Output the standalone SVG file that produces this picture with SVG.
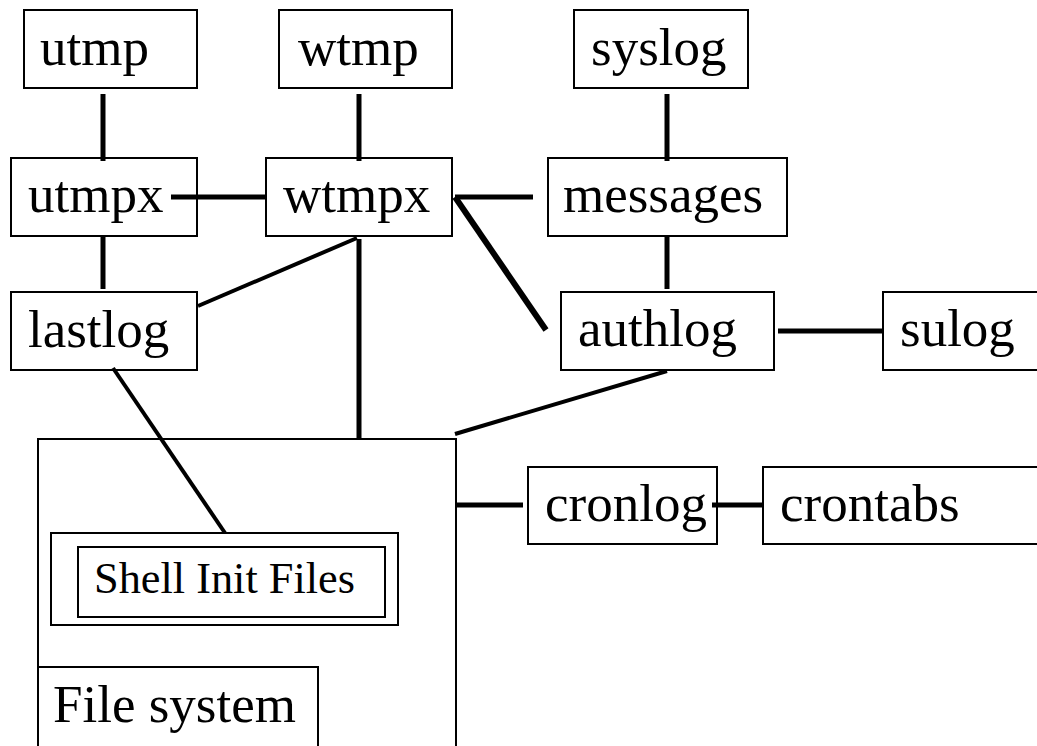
<svg xmlns="http://www.w3.org/2000/svg" width="1037" height="746" viewBox="0 0 1037 746">
  <style>
    .box { fill: #fff; stroke: #000; stroke-width: 2; }
    .lbl { font-family: "Liberation Serif", "Times New Roman", serif; font-size: 53px; fill: #000; }
    .small { font-size: 44px; }
    .link { stroke: #000; stroke-width: 5; fill: none; }
    .thin { stroke-width: 4; }
  </style>
  <rect width="1037" height="746" fill="#fff"/>

  <!-- file system container with nested shell init files -->
  <g id="filesystem">
    <rect class="box" x="38" y="439" width="418" height="320"/>
    <rect class="box" x="38" y="667" width="280" height="92"/>
    <text class="lbl" x="53" y="722">File system</text>
  </g>
  <g id="shellinit">
    <rect class="box" x="51" y="533" width="347" height="92"/>
    <rect class="box" x="78" y="547" width="307" height="70"/>
    <text class="lbl small" x="94" y="593" textLength="261" lengthAdjust="spacingAndGlyphs">Shell Init Files</text>
  </g>

  <!-- log file nodes -->
  <g id="utmp">
    <rect class="box" x="24" y="10" width="173" height="78"/>
    <text class="lbl" x="40" y="65">utmp</text>
  </g>
  <g id="wtmp">
    <rect class="box" x="279" y="10" width="173" height="78"/>
    <text class="lbl" x="298" y="65">wtmp</text>
  </g>
  <g id="syslog">
    <rect class="box" x="574" y="10" width="174" height="78"/>
    <text class="lbl" x="591" y="65">syslog</text>
  </g>
  <g id="utmpx">
    <rect class="box" x="11" y="158" width="186" height="78"/>
    <text class="lbl" x="28" y="212">utmpx</text>
  </g>
  <g id="wtmpx">
    <rect class="box" x="266" y="158" width="186" height="78"/>
    <text class="lbl" x="283" y="212">wtmpx</text>
  </g>
  <g id="messages">
    <rect class="box" x="548" y="158" width="239" height="78"/>
    <text class="lbl" x="563" y="212">messages</text>
  </g>
  <g id="lastlog">
    <rect class="box" x="11" y="292" width="186" height="78"/>
    <text class="lbl" x="28" y="347">lastlog</text>
  </g>
  <g id="authlog">
    <rect class="box" x="561" y="292" width="213" height="78"/>
    <text class="lbl" x="578" y="346">authlog</text>
  </g>
  <g id="sulog">
    <rect class="box" x="883" y="292" width="170" height="78"/>
    <text class="lbl" x="900" y="346">sulog</text>
  </g>
  <g id="cronlog">
    <rect class="box" x="528" y="467" width="189" height="77"/>
    <text class="lbl" x="545" y="521">cronlog</text>
  </g>
  <g id="crontabs">
    <rect class="box" x="763" y="467" width="290" height="77"/>
    <text class="lbl" x="780" y="521">crontabs</text>
  </g>

  <!-- connectors, drawn over the boxes -->
  <g id="connectors">
    <line class="link" x1="103" y1="94" x2="103" y2="161"/>
    <line class="link" x1="359" y1="94" x2="359" y2="161"/>
    <line class="link" x1="667" y1="94" x2="667" y2="161"/>
    <line class="link" x1="171" y1="197" x2="266" y2="197"/>
    <line class="link" x1="455" y1="197" x2="533" y2="197"/>
    <line class="link" x1="103" y1="236" x2="103" y2="289"/>
    <line class="link" x1="667" y1="236" x2="667" y2="289"/>
    <line class="link thin" x1="357" y1="238" x2="198" y2="306"/>
    <line class="link" x1="359" y1="239" x2="359" y2="439"/>
    <line class="link" x1="455" y1="197" x2="546" y2="330" style="stroke-width:6"/>
    <line class="link" x1="778" y1="331" x2="883" y2="331"/>
    <line class="link thin" x1="667" y1="371" x2="455" y2="434"/>
    <line class="link thin" x1="113" y1="368" x2="225" y2="533"/>
    <line class="link" x1="456" y1="505" x2="523" y2="505"/>
    <line class="link" x1="712" y1="505" x2="763" y2="505"/>
  </g>
</svg>
